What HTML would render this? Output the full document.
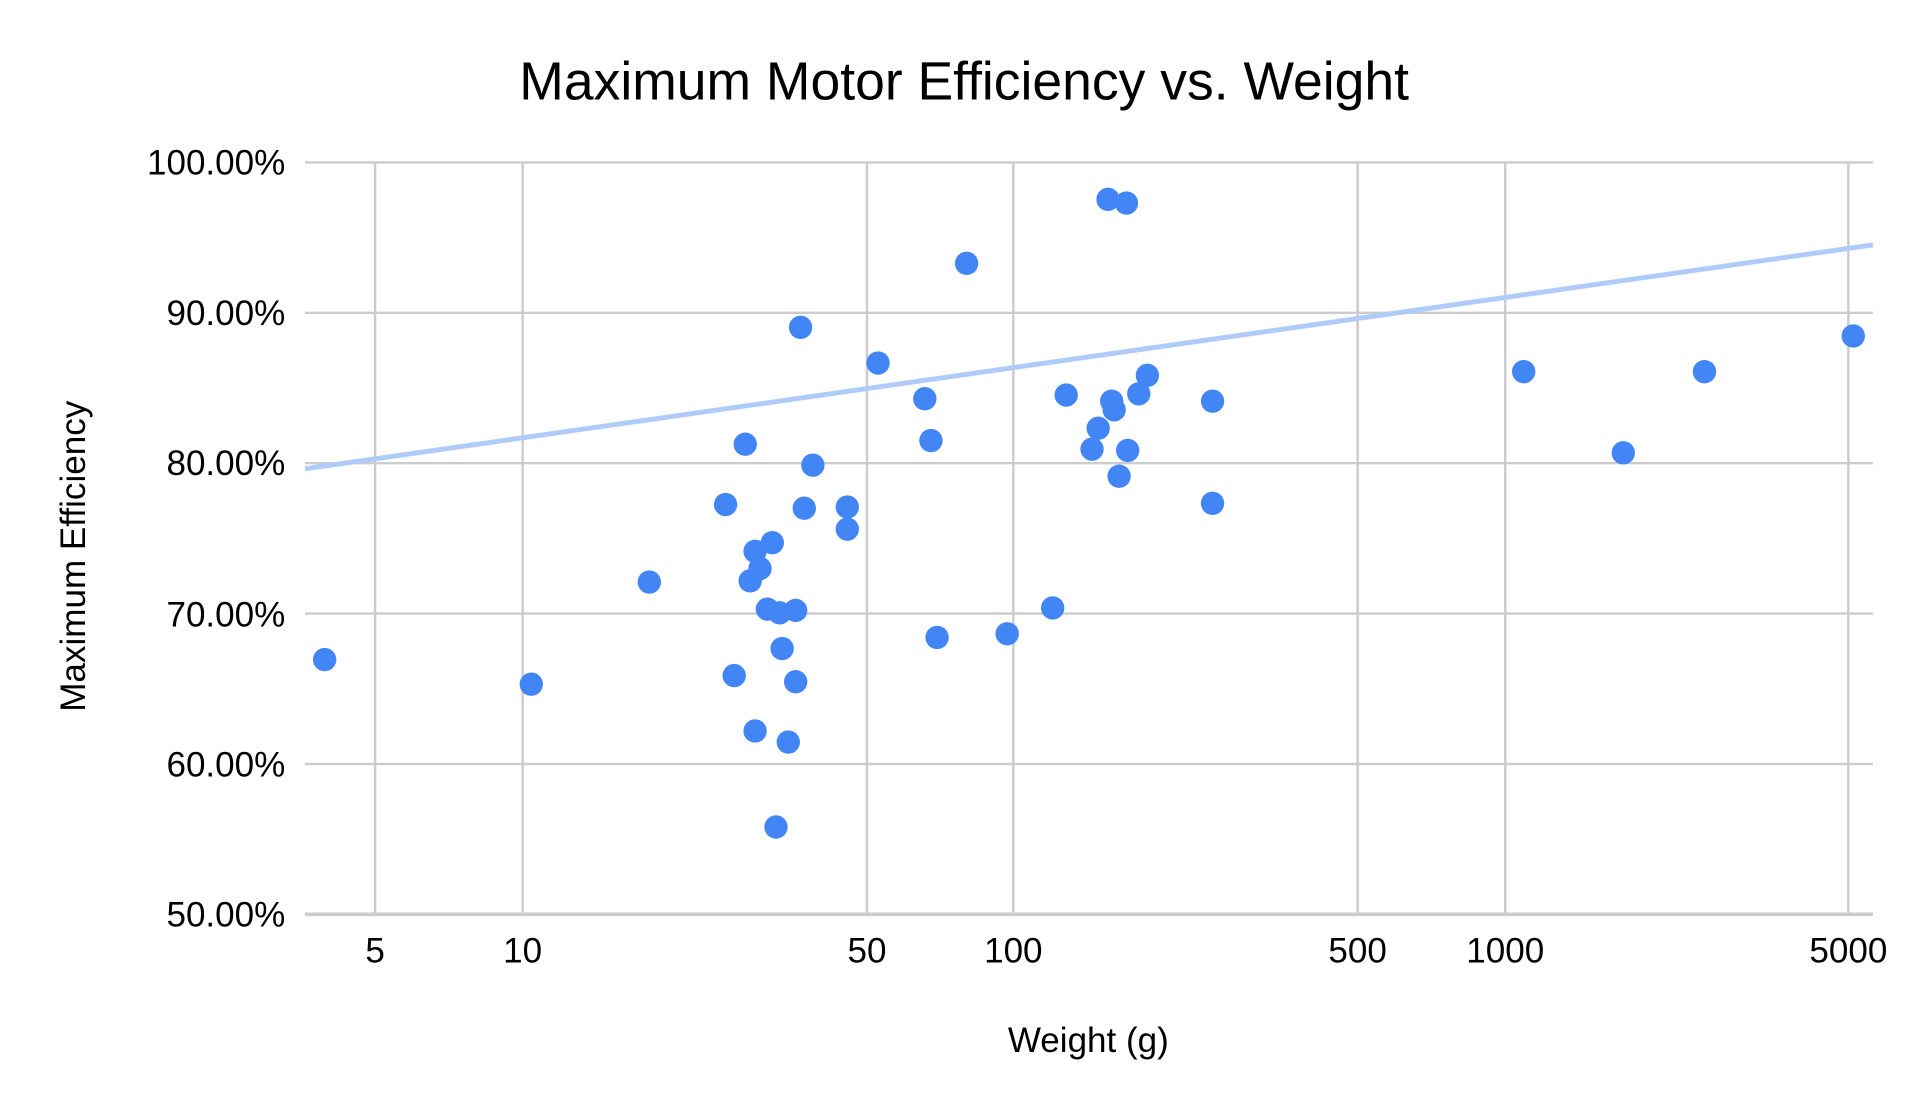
<!DOCTYPE html>
<html><head><meta charset="utf-8"><style>
html,body{margin:0;padding:0;background:#fff;}
svg{display:block;}
text{font-family:"Liberation Sans",Arial,sans-serif;fill:#000;}
</style></head><body>
<svg width="1930" height="1110" viewBox="0 0 1569.4 902" preserveAspectRatio="none" xmlns="http://www.w3.org/2000/svg">
<rect width="1569.4" height="902" fill="#fff"/>
<g stroke="#cccccc" stroke-width="2">
<line x1="305" y1="132" x2="305" y2="743"/>
<line x1="425" y1="132" x2="425" y2="743"/>
<line x1="705" y1="132" x2="705" y2="743"/>
<line x1="824" y1="132" x2="824" y2="743"/>
<line x1="1104" y1="132" x2="1104" y2="743"/>
<line x1="1224" y1="132" x2="1224" y2="743"/>
<line x1="1503" y1="132" x2="1503" y2="743"/>
<line x1="248" y1="132" x2="1523" y2="132"/>
<line x1="248" y1="254.2" x2="1523" y2="254.2"/>
<line x1="248" y1="376.4" x2="1523" y2="376.4"/>
<line x1="248" y1="498.6" x2="1523" y2="498.6"/>
<line x1="248" y1="620.8" x2="1523" y2="620.8"/>
</g>
<line x1="248" y1="743" x2="1523" y2="743" stroke="#cccccc" stroke-width="3"/>
<text x="784" y="81" font-size="43.5" text-anchor="middle">Maximum Motor Efficiency vs. Weight</text>
<g font-size="28.5" text-anchor="end">
<text x="232" y="142">100.00%</text>
<text x="232" y="264">90.00%</text>
<text x="232" y="386">80.00%</text>
<text x="232" y="509">70.00%</text>
<text x="232" y="631">60.00%</text>
<text x="232" y="753">50.00%</text>
</g>
<g font-size="28.5" text-anchor="middle">
<text x="305" y="782">5</text>
<text x="425" y="782">10</text>
<text x="705" y="782">50</text>
<text x="824" y="782">100</text>
<text x="1104" y="782">500</text>
<text x="1224" y="782">1000</text>
<text x="1503" y="782">5000</text>
</g>
<text x="885" y="855" font-size="28.5" text-anchor="middle">Weight (g)</text>
<text transform="translate(69,452) rotate(-90)" font-size="28.5" text-anchor="middle">Maximum Efficiency</text>
<line x1="248" y1="381" x2="1523" y2="199" stroke="#aecbfa" stroke-width="4"/>
<g fill="#4285f4">
<circle cx="264" cy="536" r="9.5"/><circle cx="432" cy="556" r="9.5"/><circle cx="528" cy="473" r="9.5"/>
<circle cx="590" cy="410" r="9.5"/><circle cx="597" cy="549" r="9.5"/><circle cx="606" cy="361" r="9.5"/>
<circle cx="610" cy="472" r="9.5"/><circle cx="614" cy="448" r="9.5"/><circle cx="618" cy="462" r="9.5"/>
<circle cx="614" cy="594" r="9.5"/><circle cx="628" cy="441" r="9.5"/><circle cx="624" cy="495" r="9.5"/>
<circle cx="634" cy="498" r="9.5"/><circle cx="647" cy="496" r="9.5"/><circle cx="636" cy="527" r="9.5"/>
<circle cx="647" cy="554" r="9.5"/><circle cx="641" cy="603" r="9.5"/><circle cx="631" cy="672" r="9.5"/>
<circle cx="651" cy="266" r="9.5"/><circle cx="654" cy="413" r="9.5"/><circle cx="661" cy="378" r="9.5"/>
<circle cx="689" cy="412" r="9.5"/><circle cx="689" cy="430" r="9.5"/><circle cx="714" cy="295" r="9.5"/>
<circle cx="752" cy="324" r="9.5"/><circle cx="757" cy="358" r="9.5"/><circle cx="762" cy="518" r="9.5"/>
<circle cx="786" cy="214" r="9.5"/><circle cx="819" cy="515" r="9.5"/><circle cx="856" cy="494" r="9.5"/>
<circle cx="867" cy="321" r="9.5"/><circle cx="888" cy="365" r="9.5"/><circle cx="893" cy="348" r="9.5"/>
<circle cx="904" cy="326" r="9.5"/><circle cx="906" cy="333" r="9.5"/><circle cx="901" cy="162" r="9.5"/>
<circle cx="916" cy="165" r="9.5"/><circle cx="917" cy="366" r="9.5"/><circle cx="910" cy="387" r="9.5"/>
<circle cx="926" cy="320" r="9.5"/><circle cx="933" cy="305" r="9.5"/><circle cx="986" cy="326" r="9.5"/>
<circle cx="986" cy="409" r="9.5"/><circle cx="1239" cy="302" r="9.5"/><circle cx="1320" cy="368" r="9.5"/>
<circle cx="1386" cy="302" r="9.5"/><circle cx="1507" cy="273" r="9.5"/>
</g>
</svg>
</body></html>
